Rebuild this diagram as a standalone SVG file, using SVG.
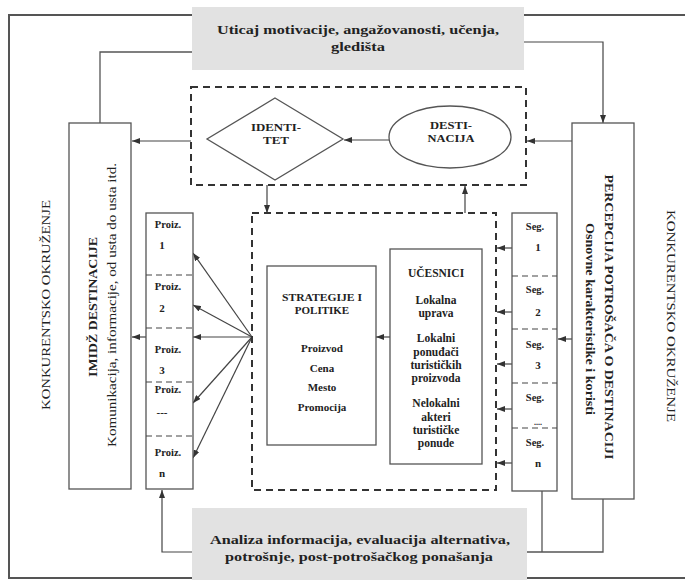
<svg xmlns="http://www.w3.org/2000/svg" width="685" height="580" viewBox="0 0 685 580">
<defs>
<marker id="ah" markerUnits="userSpaceOnUse" markerWidth="8" markerHeight="6" refX="8" refY="3" orient="auto">
<path d="M0,0 L8,3 L0,6 z" fill="#333"/>
</marker>
<style>
.t{font-family:"Liberation Serif","Times New Roman",serif;fill:#222;}
.b{font-weight:bold;}
.box{fill:#fff;stroke:#555;stroke-width:1.3;}
.gray{fill:#e2e2e2;stroke:none;}
.dash{fill:none;stroke:#333;stroke-width:2;stroke-dasharray:7 5;}
.div{stroke:#444;stroke-width:1.2;stroke-dasharray:6 4;}
.ln{fill:none;stroke:#555;stroke-width:1.3;}
.ar{fill:none;stroke:#444;stroke-width:1.2;marker-end:url(#ah);}
.frame{fill:none;stroke:#555;stroke-width:2;}
</style>
</defs>
<rect width="685" height="580" fill="#fff"/>

<g id="connectors">
<path class="frame" d="M192,15 H9 V578 H192"/>
<path class="frame" d="M524,15 H685"/>
<path class="frame" d="M527,578 H685"/>
<path class="ln" d="M192,52 H100 V123"/>
<path class="ar" d="M524,42 H603 V123"/>
<path class="ar" d="M572,141 H527"/>
<path class="ar" d="M389,140 H344"/>
<path class="ar" d="M191,141 H132"/>
<path class="ar" d="M267,185 V213"/>
<path class="ar" d="M465,213 V186"/>
<path class="ar" d="M252,337 L193,253"/>
<path class="ar" d="M252,337 L193,305"/>
<path class="ar" d="M252,337 L193,337"/>
<path class="ar" d="M252,337 L193,403"/>
<path class="ar" d="M252,337 L193,458"/>
<path class="ar" d="M146,337 H132"/>
<path class="ar" d="M390,337 H376"/>
<path class="ar" d="M512,248 H497"/>
<path class="ar" d="M512,312 H497"/>
<path class="ar" d="M512,364 H497"/>
<path class="ar" d="M512,409 H497"/>
<path class="ar" d="M512,463 H497"/>
<path class="ar" d="M572,339 H558"/>
<path class="ar" d="M192,552 H162 V490"/>
<path class="ln" d="M527,552 H603 V499"/>
<path class="ln" d="M542,552 V491"/>
</g>

<g id="top-influence">
<rect class="gray" x="192" y="7" width="332" height="63"/>
<text class="t b" x="358" y="34" font-size="13.5" text-anchor="middle" textLength="282" lengthAdjust="spacingAndGlyphs">Uticaj motivacije, angažovanosti, učenja,</text>
<text class="t b" x="358" y="51" font-size="13.5" text-anchor="middle" textLength="54" lengthAdjust="spacingAndGlyphs">gledišta</text>
</g>

<g id="bottom-analysis">
<rect class="gray" x="192" y="508" width="335" height="72"/>
<text class="t b" x="360" y="544" font-size="13.5" text-anchor="middle" textLength="300" lengthAdjust="spacingAndGlyphs">Analiza informacija, evaluacija alternativa,</text>
<text class="t b" x="359" y="561" font-size="13.5" text-anchor="middle" textLength="268" lengthAdjust="spacingAndGlyphs">potrošnje, post-potrošačkog ponašanja</text>
</g>

<g id="destination-group">
<rect class="dash" x="191" y="87" width="335" height="98"/>
</g>

<g id="identitet">
<polygon points="275,98 343,139 275,180 207,139" fill="#fff" stroke="#555" stroke-width="1.3"/>
<text class="t b" x="276" y="131" font-size="10.5" text-anchor="middle" textLength="50" lengthAdjust="spacingAndGlyphs">IDENTI-</text>
<text class="t b" x="276" y="144" font-size="10.5" text-anchor="middle" textLength="26" lengthAdjust="spacingAndGlyphs">TET</text>
</g>

<g id="destinacija">
<ellipse cx="450" cy="137" rx="61" ry="31" fill="#fff" stroke="#555" stroke-width="1.3"/>
<text class="t b" x="451" y="129" font-size="10.5" text-anchor="middle" textLength="42" lengthAdjust="spacingAndGlyphs">DESTI-</text>
<text class="t b" x="451" y="142" font-size="10.5" text-anchor="middle" textLength="47" lengthAdjust="spacingAndGlyphs">NACIJA</text>
</g>

<g id="outer-left-label">
<text class="t" transform="translate(50,305) rotate(-90)" font-size="13.5" text-anchor="middle" textLength="210" lengthAdjust="spacingAndGlyphs">KONKURENTSKO OKRUŽENJE</text>
</g>

<g id="outer-right-label">
<text class="t" transform="translate(667,316) rotate(90)" font-size="13.5" text-anchor="middle" textLength="212" lengthAdjust="spacingAndGlyphs">KONKURENTSKO OKRUŽENJE</text>
</g>

<g id="imidz">
<rect class="box" x="69" y="123" width="62" height="366"/>
<text class="t b" transform="translate(97,307) rotate(-90)" font-size="12.5" text-anchor="middle" textLength="140" lengthAdjust="spacingAndGlyphs">IMIDŽ DESTINACIJE</text>
<text class="t" transform="translate(116,305) rotate(-90)" font-size="13" text-anchor="middle" textLength="284" lengthAdjust="spacingAndGlyphs">Komunikacija, informacije, od usta do usta itd.</text>
</g>

<g id="percepcija">
<rect class="box" x="572" y="123" width="62" height="376"/>
<text class="t b" transform="translate(605,317) rotate(90)" font-size="12.5" text-anchor="middle" textLength="285" lengthAdjust="spacingAndGlyphs">PERCEPCIJA POTROŠAČA O DESTINACIJI</text>
<text class="t b" transform="translate(586,319) rotate(90)" font-size="11.5" text-anchor="middle" textLength="192" lengthAdjust="spacingAndGlyphs">Osnovne karakteristike i koristi</text>
</g>

<g id="proizvodi">
<rect class="box" x="146" y="213" width="47" height="276"/>
<line class="div" x1="146" y1="275" x2="193" y2="275"/>
<line class="div" x1="146" y1="328" x2="193" y2="328"/>
<line class="div" x1="146" y1="382" x2="193" y2="382"/>
<line class="div" x1="146" y1="436" x2="193" y2="436"/>
<g class="t b" font-size="10.5" text-anchor="middle">
<text x="168" y="228">Proiz.</text>
<text x="162" y="249" font-size="11">1</text>
<text x="168" y="290">Proiz.</text>
<text x="162" y="312" font-size="11">2</text>
<text x="168" y="353">Proiz.</text>
<text x="162" y="374" font-size="11">3</text>
<text x="168" y="393">Proiz.</text>
<text x="162" y="416" font-size="11">---</text>
<text x="168" y="456">Proiz.</text>
<text x="162" y="477" font-size="11">n</text>
</g>
</g>

<g id="segmenti">
<rect class="box" x="512" y="213" width="45" height="278"/>
<line class="div" x1="512" y1="276" x2="557" y2="276"/>
<line class="div" x1="512" y1="329" x2="557" y2="329"/>
<line class="div" x1="512" y1="383" x2="557" y2="383"/>
<line class="div" x1="512" y1="428" x2="557" y2="428"/>
<g class="t b" font-size="10.5" text-anchor="middle">
<text x="535" y="230">Seg.</text>
<text x="538" y="251" font-size="11">1</text>
<text x="535" y="293">Seg.</text>
<text x="538" y="316" font-size="11">2</text>
<text x="535" y="348">Seg.</text>
<text x="538" y="369" font-size="11">3</text>
<text x="535" y="401">Seg.</text>
<text x="538" y="425" font-size="8">....</text>
<text x="535" y="446">Seg.</text>
<text x="538" y="467" font-size="11">n</text>
</g>
</g>

<g id="inner-group">
<rect class="dash" x="252" y="213" width="244" height="277"/>
</g>

<g id="strategije">
<rect class="box" x="267" y="266" width="109" height="179"/>
<g class="t b" font-size="11" text-anchor="middle">
<text x="322" y="301" textLength="80" lengthAdjust="spacingAndGlyphs">STRATEGIJE I</text>
<text x="322" y="314">POLITIKE</text>
<text x="322" y="352">Proizvod</text>
<text x="322" y="372">Cena</text>
<text x="322" y="391">Mesto</text>
<text x="322" y="411">Promocija</text>
</g>
</g>

<g id="ucesnici">
<rect class="box" x="390" y="249" width="92" height="215"/>
<g class="t b" font-size="11.5" text-anchor="middle">
<text x="436" y="277">UČESNICI</text>
<text x="436" y="304">Lokalna</text>
<text x="436" y="317">uprava</text>
<text x="436" y="342">Lokalni</text>
<text x="436" y="356">ponuđači</text>
<text x="436" y="369">turističkih</text>
<text x="436" y="382">proizvoda</text>
<text x="436" y="407">Nelokalni</text>
<text x="436" y="421">akteri</text>
<text x="436" y="434">turističke</text>
<text x="436" y="447">ponude</text>
</g>
</g>
</svg>
